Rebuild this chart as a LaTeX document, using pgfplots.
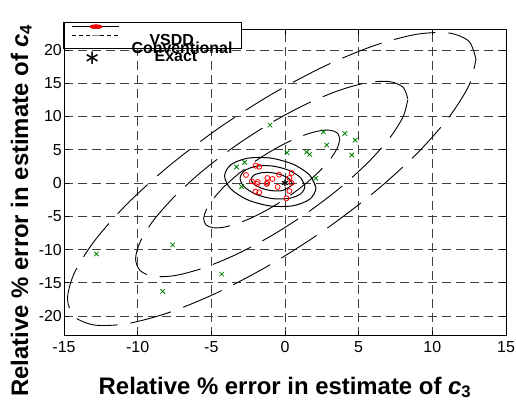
\documentclass[border=0pt]{standalone}
\usepackage{fontspec}
\setmainfont{Liberation Sans}
\newfontfamily\symfont{DejaVu Sans}
\usepackage{pgfplots}
\pgfplotsset{compat=1.18}
\definecolor{mgreen}{rgb}{0,0.5,0}

\begin{document}
\begin{tikzpicture}
\path[use as bounding box] (0bp,0bp) rectangle (516bp,419bp);
\begin{axis}[
  at={(64bp,83bp)}, anchor=south west,
  scale only axis, width=442bp, height=306bp,
  xmin=-15, xmax=15, ymin=-23, ymax=23,
  xtick={-15,-10,...,15}, ytick={-20,-15,...,20},
  grid=major,
  major grid style={black!75, line width=0.8bp, dash pattern=on 9bp off 5bp},
  axis line style={line width=1bp},
  tick align=inside, major tick length=5bp,
  tick style={black, line width=0.8bp},
  ticklabel style={font=\fontsize{16}{16}\selectfont},
  /pgf/number format/assume math mode=true,
  xticklabel style={yshift=-2bp},
  yticklabel style={inner xsep=2bp},
]
% conventional estimator: confidence ellipses (dashed)
\addplot[black, line width=0.9bp, dash pattern=on 42bp off 13bp, smooth] coordinates {
 (3.72,6.60) (3.56,7.50) (3.10,7.92) (2.37,7.85) (1.41,7.28) (0.30,6.26)
 (-0.90,4.85) (-2.10,3.15) (-3.21,1.28) (-4.17,-0.64) (-4.90,-2.47) (-5.36,-4.10)
 (-5.52,-5.40) (-5.36,-6.30) (-4.90,-6.72) (-4.17,-6.65) (-3.21,-6.08) (-2.10,-5.06)
 (-0.90,-3.65) (0.30,-1.95) (1.41,-0.08) (2.37,1.84) (3.10,3.67) (3.56,5.30) (3.72,6.60)};
\addplot[black, line width=0.9bp, dash pattern=on 42bp off 13bp, smooth] coordinates {
 (8.34,12.60) (8.02,14.39) (7.10,15.24) (5.63,15.10) (3.72,13.96) (1.49,11.92)
 (-0.90,9.10) (-3.29,5.70) (-5.52,1.96) (-7.43,-1.88) (-8.90,-5.54) (-9.82,-8.79)
 (-10.14,-11.40) (-9.82,-13.19) (-8.90,-14.04) (-7.43,-13.90) (-5.52,-12.76) (-3.29,-10.72)
 (-0.90,-7.90) (1.49,-4.50) (3.72,-0.76) (5.63,3.08) (7.10,6.74) (8.02,9.99) (8.34,12.60)};
\addplot[black, line width=0.9bp, dash pattern=on 42bp off 13bp, smooth] coordinates {
 (12.96,18.60) (12.49,21.29) (11.10,22.56) (8.90,22.34) (6.03,20.64) (2.69,17.57)
 (-0.90,13.35) (-4.49,8.26) (-7.83,2.64) (-10.70,-3.11) (-12.90,-8.61) (-14.29,-13.49)
 (-14.76,-17.40) (-14.29,-20.09) (-12.90,-21.36) (-10.70,-21.14) (-7.83,-19.44) (-4.49,-16.37)
 (-0.90,-12.15) (2.69,-7.06) (6.03,-1.44) (8.90,4.31) (11.10,9.81) (12.49,14.69) (12.96,18.60)};
% VSDD estimator: confidence ellipses (solid)
\addplot[black, line width=1bp, smooth] coordinates {
 (0.50,-0.15) (0.312,0.572) (-0.20,1.194) (-0.90,1.55) (-1.60,1.544) (-2.112,1.178)
 (-2.30,0.55) (-2.112,-0.172) (-1.60,-0.794) (-0.90,-1.15) (-0.20,-1.144) (0.312,-0.578)
 (0.50,-0.15) (0.312,0.572)};
\addplot[black, line width=1bp, smooth] coordinates {
 (1.35,-0.50) (1.055,0.805) (0.25,1.92) (-0.85,2.55) (-1.95,2.52) (-2.755,1.845)
 (-3.05,0.70) (-2.755,-0.605) (-1.95,-1.72) (-0.85,-2.35) (0.25,-2.32) (1.055,-1.645)
 (1.35,-0.50) (1.055,0.805)};
\addplot[black, line width=1bp, smooth] coordinates {
 (2.10,-0.75) (1.685,1.17) (0.55,2.82) (-1.00,3.75) (-2.55,3.72) (-3.685,2.73)
 (-4.10,1.05) (-3.685,-0.87) (-2.55,-2.52) (-1.00,-3.45) (0.55,-3.42) (1.685,-2.43)
 (2.10,-0.75) (1.685,1.17)};
% conventional estimates
\addplot[only marks, mark=x, mark size=3.2bp, mgreen, line width=0.8bp] coordinates {
 (-1.02,8.7) (2.61,7.7) (4.06,7.45) (4.76,6.45) (2.83,5.7) (0.14,4.55)
 (1.47,4.65) (1.68,4.3) (4.53,4.2) (-3.29,2.4) (-2.74,3.1) (-2.95,-0.55)
 (2.09,0.7) (-12.8,-10.66) (-7.62,-9.3) (-8.3,-16.3) (-4.29,-13.7)};
% VSDD estimates
\addplot[only marks, mark=o, mark size=2.5bp, red, line width=0.8bp] coordinates {
 (-2.0,2.6) (-1.75,2.45) (-2.65,1.2) (-2.25,0.25) (-1.85,0.15) (-1.9,-0.15)
 (-2.0,-1.3) (-1.75,-1.4) (-1.2,0.75) (-0.85,0.6) (-1.25,-0.15) (-1.2,0.05)
 (-0.5,-0.6) (-0.4,1.25) (0.3,0.75) (0.45,1.5) (0.45,0.0) (0.3,-1.2) (0.1,-2.3)};
% exact value
\addplot[only marks, mark=asterisk, mark size=3.5bp, black, line width=1.2bp] coordinates {(0,0)};
\end{axis}
% legend
\draw[line width=1.3bp, fill=white] (64bp,370.7bp) rectangle (241.7bp,396.3bp);
\draw[line width=1bp] (71.7bp,392.3bp) -- (119.3bp,392.3bp);
\filldraw[fill=red, draw=red!70!black, line width=0.5bp] (96bp,392.3bp) ellipse [x radius=6.5bp, y radius=2bp];
\draw[line width=1bp, dash pattern=on 4bp off 3bp] (72bp,383.3bp) -- (120bp,383.3bp);
\draw[black!45, line width=1bp] (92bp,383.3bp) -- (100bp,383.3bp);
\begin{scope}[every node/.style={anchor=base, inner sep=0pt, font=\bfseries\fontsize{16}{16}\selectfont}]
\node at (171.7bp,373.3bp) {VSDD};
\node at (182bp,365bp) {Conventional};
\node at (176bp,357.3bp) {Exact};
\end{scope}
\node[inner sep=0pt, font=\symfont\fontsize{20}{20}\selectfont] at (92.3bp,360.7bp) {∗};
% axis labels
\node[anchor=base, inner sep=0pt, font=\bfseries\fontsize{24}{24}\selectfont] at (285bp,25bp)
  {Relative \% error in estimate of \textit{c}\textsubscript{3}};
\node[rotate=90, anchor=base west, inner sep=0pt, font=\bfseries\fontsize{24}{24}\selectfont] at (28bp,22bp)
  {Relative \% error in estimate of \textit{c}\textsubscript{4}};
\end{tikzpicture}
\end{document}
